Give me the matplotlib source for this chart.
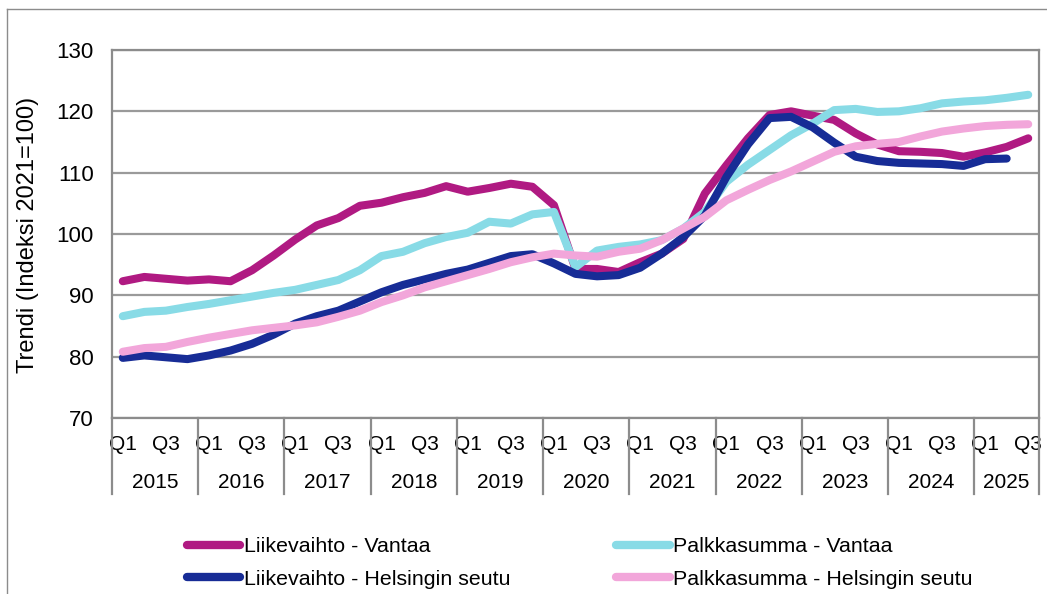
import matplotlib
matplotlib.use("Agg")
import matplotlib.pyplot as plt
import matplotlib.transforms as mtransforms
from matplotlib.lines import Line2D
import numpy as np

plt.rcParams['font.family'] = ['Liberation Sans', 'DejaVu Sans']

years = ['2015', '2016', '2017', '2018', '2019', '2020', '2021', '2022', '2023', '2024', '2025']
quarters_per_year = [4, 4, 4, 4, 4, 4, 4, 4, 4, 4, 3]
quarter_labels = ['Q1', '', 'Q3', '']

liikevaihto_vantaa = [92.3, 93.0, 92.7, 92.4, 92.6, 92.3, 94.1, 96.5, 99.1, 101.4, 102.6, 104.6,
                      105.1, 106.0, 106.7, 107.8, 106.9, 107.5, 108.2, 107.7, 104.7, 94.3, 94.3, 93.8,
                      95.4, 96.8, 99.2, 106.6, 111.2, 115.6, 119.4, 120.0, 119.3, 118.6, 116.4, 114.6,
                      113.5, 113.4, 113.2, 112.6, 113.3, 114.2, 115.6]
palkkasumma_vantaa = [86.6, 87.3, 87.5, 88.1, 88.6, 89.2, 89.8, 90.4, 90.9, 91.7, 92.5, 94.1,
                      96.4, 97.1, 98.5, 99.5, 100.2, 102.0, 101.7, 103.2, 103.6, 94.6, 97.3, 97.9,
                      98.3, 99.0, 100.9, 103.6, 108.5, 111.3, 113.7, 116.1, 118.0, 120.2, 120.4, 119.9,
                      120.0, 120.5, 121.3, 121.6, 121.8, 122.2, 122.7]
liikevaihto_helsinki = [79.8, 80.2, 79.9, 79.6, 80.2, 81.0, 82.1, 83.6, 85.4, 86.6, 87.5, 89.0,
                        90.5, 91.7, 92.6, 93.5, 94.2, 95.3, 96.4, 96.7, 95.2, 93.5, 93.1, 93.3,
                        94.5, 96.8, 99.5, 103.0, 109.3, 114.6, 118.9, 119.1, 117.4, 114.9, 112.6, 111.9,
                        111.6, 111.5, 111.4, 111.1, 112.2, 112.3]
palkkasumma_helsinki = [80.8, 81.4, 81.6, 82.4, 83.1, 83.7, 84.3, 84.7, 85.1, 85.6, 86.5, 87.5,
                        88.9, 90.0, 91.3, 92.3, 93.3, 94.3, 95.4, 96.2, 96.8, 96.5, 96.3, 97.1,
                        97.6, 99.0, 100.9, 102.8, 105.5, 107.2, 108.8, 110.2, 111.8, 113.4, 114.3, 114.7,
                        115.0, 115.9, 116.7, 117.2, 117.6, 117.8, 117.9]

series_names = ['Liikevaihto - Vantaa', 'Palkkasumma - Vantaa',
                'Liikevaihto - Helsingin seutu', 'Palkkasumma - Helsingin seutu']
series_values = [liikevaihto_vantaa, palkkasumma_vantaa, liikevaihto_helsinki, palkkasumma_helsinki]
colors = ['#B01A82', '#88DBE6', '#172C96', '#F2A6DA']

W, H = 1047, 594
fig = plt.figure(figsize=(W / 100, H / 100), dpi=100)
L, R, T, B = 112, 1039, 50, 418
ax = fig.add_axes([L / W, 1 - B / H, (R - L) / W, (B - T) / H])

n_total = sum(quarters_per_year)
for name, vals, c in zip(series_names, series_values, colors):
    x = np.arange(len(vals))
    ax.plot(x, vals, color=c, lw=5.8, solid_capstyle='round', solid_joinstyle='round',
            label=name, zorder=3)

ax.set_xlim(-0.5, n_total - 0.5)
ax.set_ylim(70, 130)
ax.set_yticks(np.arange(70, 131, 10))
ax.tick_params(axis='y', length=0, pad=13, labelsize=16)
ax.grid(axis='y', color='#9a9a9a', lw=1.6, zorder=1)
for s in ax.spines.values():
    s.set_color('#8c8c8c')
    s.set_linewidth(1.6)

# quarter ticks
xt, xl = [], []
pos = 0
for nq in quarters_per_year:
    for q in range(nq):
        if quarter_labels[q]:
            xt.append(pos + q)
            xl.append(quarter_labels[q])
    pos += nq
ax.set_xticks(xt)
ax.set_xticklabels(xl)
ax.tick_params(axis='x', length=0, pad=12, labelsize=15)

# year labels and separators
trans = mtransforms.blended_transform_factory(ax.transData, ax.transAxes)
axh = B - T
pos = 0
bounds = [-0.5]
for yr, nq in zip(years, quarters_per_year):
    ax.text(pos - 0.5 + nq / 2, -64 / axh, yr, transform=trans, ha='center', va='center',
            fontsize=15)
    pos += nq
    bounds.append(pos - 0.5)
for b in bounds:
    ax.plot([b, b], [0, -76 / axh], transform=trans, color='#8c8c8c', lw=1.6, clip_on=False)

fig.text(28 / W, 1 - 235 / H, 'Trendi (Indeksi 2021=100)', rotation=90, ha='center',
         va='center', fontsize=17)

# outer chart border
fig.add_artist(Line2D([7 / W, 7 / W], [0, 1 - 9 / H], color='#8c8c8c', lw=1.0))
fig.add_artist(Line2D([7 / W, 1], [1 - 9 / H, 1 - 9 / H], color='#8c8c8c', lw=1.0))

# legend (row-wise order in two columns)
order = [0, 2, 1, 3]
leg_handles = [Line2D([], [], color=colors[i], lw=6, solid_capstyle='round') for i in order]
fig.legend(leg_handles, [series_names[i] for i in order], ncol=2, frameon=False,
           loc='center left', bbox_to_anchor=(187 / W, 1 - 563 / H), fontsize=15.4,
           handlelength=2.5, handletextpad=0.15, columnspacing=4.95, labelspacing=0.62,
           borderaxespad=0, borderpad=0)

fig.savefig('out.png', dpi=100)
